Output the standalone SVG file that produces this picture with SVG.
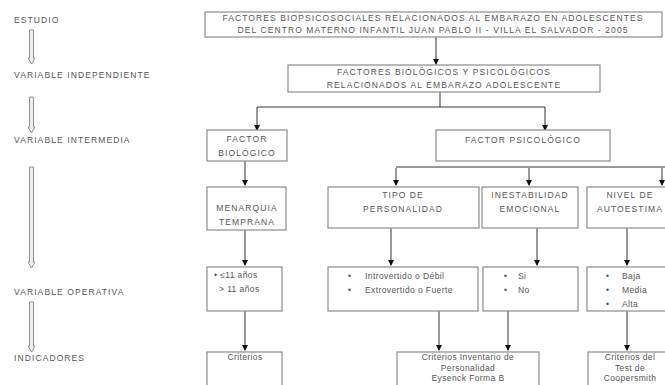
<svg xmlns="http://www.w3.org/2000/svg" width="665" height="385" viewBox="0 0 665 385">
<defs>
<style>
text{font-family:"Liberation Sans",Arial,sans-serif;fill:#555;}
.lab{font-size:8.5px;letter-spacing:1.1px;}
.t{font-size:8.5px;letter-spacing:1.1px;text-anchor:middle;}
.s{font-size:8.5px;letter-spacing:0.4px;}
.sc{font-size:8.5px;letter-spacing:0.4px;text-anchor:middle;}
.box{fill:#fff;stroke:#8c8c8c;stroke-width:1.2;}
.c{fill:none;stroke:#333;stroke-width:1;}
.bar{fill:none;stroke:#999;stroke-width:2;}
.blk{fill:#eee;stroke:#888;stroke-width:0.9;}
</style>
<marker id="ah" markerWidth="6" markerHeight="6" refX="5" refY="3" orient="auto" markerUnits="userSpaceOnUse">
<path d="M0,0 L6,3 L0,6 Z" fill="#111"/>
</marker>
</defs>
<rect width="665" height="385" fill="#fff"/>

<g id="levels">
<text class="lab" x="14" y="23">ESTUDIO</text>
<text class="lab" x="14" y="78">VARIABLE INDEPENDIENTE</text>
<text class="lab" x="14" y="143">VARIABLE INTERMEDIA</text>
<text class="lab" x="14" y="295">VARIABLE OPERATIVA</text>
<text class="lab" x="14" y="361">INDICADORES</text>
<path class="blk" d="M29.5,30 H33.5 V58 H35 L31.5,64 L28,58 H29.5 Z"/>
<path class="blk" d="M29.5,97 H33.5 V127 H35 L31.5,133 L28,127 H29.5 Z"/>
<path class="blk" d="M29.5,167 H33.5 V262 H35 L31.5,268 L28,262 H29.5 Z"/>
<path class="blk" d="M29.5,302 H33.5 V346 H35 L31.5,352 L28,346 H29.5 Z"/>
</g>

<g id="connectors">
<line class="c" x1="436" y1="37" x2="436" y2="64" marker-end="url(#ah)"/>
<polyline class="c" points="440,92 440,107"/>
<polyline class="c" points="257,107 545,107"/>
<line class="c" x1="257" y1="107" x2="257" y2="130" marker-end="url(#ah)"/>
<line class="c" x1="545" y1="107" x2="545" y2="130" marker-end="url(#ah)"/>
<line class="bar" x1="396" y1="167" x2="665" y2="167"/>
<line class="c" x1="396" y1="168" x2="396" y2="185" marker-end="url(#ah)"/>
<line class="c" x1="529" y1="168" x2="529" y2="185" marker-end="url(#ah)"/>
<line class="c" x1="662" y1="168" x2="662" y2="185" marker-end="url(#ah)"/>
<line class="c" x1="245" y1="161" x2="245" y2="185" marker-end="url(#ah)"/>
<line class="c" x1="245" y1="230" x2="245" y2="265" marker-end="url(#ah)"/>
<line class="c" x1="391" y1="228" x2="391" y2="265" marker-end="url(#ah)"/>
<line class="c" x1="537" y1="228" x2="537" y2="265" marker-end="url(#ah)"/>
<line class="c" x1="627" y1="228" x2="627" y2="265" marker-end="url(#ah)"/>
<line class="c" x1="245" y1="311" x2="245" y2="350" marker-end="url(#ah)"/>
<line class="c" x1="439" y1="311" x2="439" y2="350" marker-end="url(#ah)"/>
<line class="c" x1="508" y1="311" x2="508" y2="350" marker-end="url(#ah)"/>
<line class="c" x1="627" y1="311" x2="627" y2="350" marker-end="url(#ah)"/>
</g>

<g id="estudio">
<rect class="box" x="205" y="12" width="457" height="25"/>
<text class="t" x="433" y="21">FACTORES BIOPSICOSOCIALES RELACIONADOS AL EMBARAZO EN ADOLESCENTES</text>
<text class="t" x="433" y="33">DEL CENTRO MATERNO INFANTIL JUAN PABLO II - VILLA EL SALVADOR - 2005</text>
</g>

<g id="independiente">
<rect class="box" x="288" y="65" width="312" height="27"/>
<text class="t" x="444" y="75">FACTORES BIOLÓGICOS Y PSICOLÓGICOS</text>
<text class="t" x="444" y="88">RELACIONADOS AL EMBARAZO ADOLESCENTE</text>
</g>

<g id="factor-biologico">
<rect class="box" x="207" y="130" width="80" height="31"/>
<text class="t" x="247" y="142">FACTOR</text>
<text class="t" x="247" y="156">BIOLÓGICO</text>
</g>

<g id="factor-psicologico">
<rect class="box" x="436" y="130" width="174" height="31"/>
<text class="t" x="523" y="143">FACTOR PSICOLÓGICO</text>
</g>

<g id="menarquia">
<rect class="box" x="207" y="187" width="79" height="43"/>
<text class="t" x="247" y="211">MENARQUIA</text>
<text class="t" x="247" y="225">TEMPRANA</text>
</g>

<g id="personalidad">
<rect class="box" x="328" y="187" width="151" height="41"/>
<text class="t" x="403" y="198">TIPO DE</text>
<text class="t" x="403" y="212">PERSONALIDAD</text>
</g>

<g id="inestabilidad">
<rect class="box" x="482" y="187" width="96" height="41"/>
<text class="t" x="530" y="198">INESTABILIDAD</text>
<text class="t" x="530" y="212">EMOCIONAL</text>
</g>

<g id="autoestima">
<rect class="box" x="587" y="187" width="90" height="41"/>
<text class="t" x="630" y="198">NIVEL DE</text>
<text class="t" x="630" y="212">AUTOESTIMA</text>
</g>

<g id="op-menarquia">
<rect class="box" x="207" y="267" width="75" height="44"/>
<text class="s" x="214" y="278">•  ≤11 años</text>
<text class="s" x="219" y="292">&gt; 11 años</text>
</g>

<g id="op-personalidad">
<rect class="box" x="328" y="267" width="150" height="44"/>
<text class="s" x="348" y="279">•</text>
<text class="s" x="365" y="279">Introvertido o Débil</text>
<text class="s" x="348" y="293">•</text>
<text class="s" x="365" y="293">Extrovertido o Fuerte</text>
</g>

<g id="op-inestabilidad">
<rect class="box" x="483" y="267" width="95" height="44"/>
<text class="s" x="504" y="279">•</text>
<text class="s" x="518" y="279">Si</text>
<text class="s" x="504" y="293">•</text>
<text class="s" x="518" y="293">No</text>
</g>

<g id="op-autoestima">
<rect class="box" x="587" y="267" width="90" height="44"/>
<text class="s" x="606" y="279">•</text>
<text class="s" x="622" y="279">Baja</text>
<text class="s" x="606" y="293">•</text>
<text class="s" x="622" y="293">Media</text>
<text class="s" x="606" y="307">•</text>
<text class="s" x="622" y="307">Alta</text>
</g>

<g id="ind-menarquia">
<rect class="box" x="207" y="352" width="75" height="40"/>
<text class="sc" x="245" y="360">Criterios</text>
</g>

<g id="ind-personalidad">
<rect class="box" x="397" y="352" width="142" height="40"/>
<text class="sc" x="468" y="360">Criterios Inventario de</text>
<text class="sc" x="468" y="371">Personalidad</text>
<text class="sc" x="468" y="381">Eysenck Forma B</text>
</g>

<g id="ind-autoestima">
<rect class="box" x="588" y="352" width="90" height="40"/>
<text class="sc" x="630" y="360">Criterios del</text>
<text class="sc" x="630" y="371">Test de</text>
<text class="sc" x="630" y="381">Coopersmith</text>
</g>
</svg>
